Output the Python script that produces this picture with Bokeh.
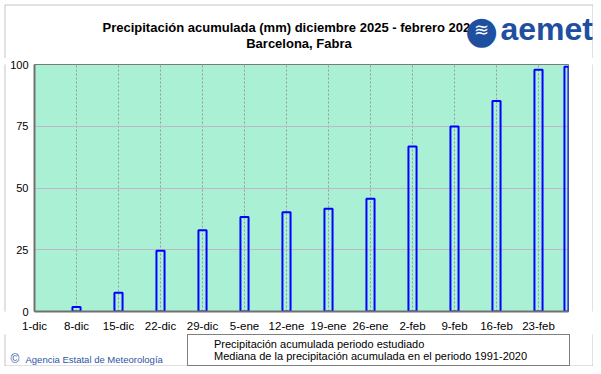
import pandas as pd
from bokeh.plotting import figure
from bokeh.layouts import column, row
from bokeh.models import (Range1d, FixedTicker, Label, Legend, LegendItem,
                          BoxAnnotation, ColumnDataSource)
from bokeh.embed import file_html
from bokeh.resources import INLINE

# ---------------- data ----------------
inicio = "2025-12-01"
fin = "2026-02-28"
fechas_ticks = ["2025-12-01", "2025-12-08", "2025-12-15", "2025-12-22", "2025-12-29",
                "2026-01-05", "2026-01-12", "2026-01-19", "2026-01-26",
                "2026-02-02", "2026-02-09", "2026-02-16", "2026-02-23"]
etiquetas_ticks = ["1-dic", "8-dic", "15-dic", "22-dic", "29-dic", "5-ene", "12-ene",
                   "19-ene", "26-ene", "2-feb", "9-feb", "16-feb", "23-feb"]
fechas_mediana = ["2025-12-08", "2025-12-15", "2025-12-22", "2025-12-29",
                  "2026-01-05", "2026-01-12", "2026-01-19", "2026-01-26",
                  "2026-02-02", "2026-02-09", "2026-02-16", "2026-02-23", "2026-02-28"]
mediana_mm = [1.8, 7.6, 24.6, 32.9, 38.3, 40.2, 41.6, 45.6, 66.8, 74.9, 85.2, 97.9, 99.1]
fechas_estudiado = []
estudiado_mm = []
y_ticks = [0, 25, 50, 75, 100]

titulo = "Precipitación acumulada (mm) diciembre 2025 - febrero 2026"
subtitulo = "Barcelona, Fabra"
leyenda_estudiado = "Precipitación acumulada periodo estudiado"
leyenda_mediana = "Mediana de la precipitación acumulada en el periodo 1991-2020"
copyright_txt = "Agencia Estatal de Meteorología"

t0 = pd.Timestamp(inicio)
def dias(fs):
    return [(pd.Timestamp(f) - t0).days for f in fs]

x_ticks = dias(fechas_ticks)
x_fin = dias([fin])[0]

FONT = "Liberation Sans"
BORDER = "#404040"
W, H_TOP, H_MID, H_BOT = 593, 58, 276, 32
STRIP = 6


def blank(w, h):
    f = figure(width=w, height=h, output_backend="svg", toolbar_location=None,
               title=None, min_border=0, x_axis_location=None, y_axis_location=None,
               outline_line_color=None, background_fill_color="white",
               border_fill_color="white", x_range=Range1d(0, 1), y_range=Range1d(0, 1))
    f.grid.visible = False
    return f


def label(f, x, y, text, size, color="black", bold=False, align="left",
          baseline="middle", font=FONT):
    f.add_layout(Label(x=x, y=y, x_units="screen", y_units="screen", text=text,
                       text_font=font, text_font_size=size, text_color=color,
                       text_font_style="bold" if bold else "normal",
                       text_align=align, text_baseline=baseline))


def box(f, left, right, top, bottom):
    f.add_layout(BoxAnnotation(left=left, right=right, top=top, bottom=bottom,
                               left_units="screen", right_units="screen",
                               top_units="screen", bottom_units="screen",
                               fill_alpha=0, line_color=BORDER, line_width=1))


# ---------------- header ----------------
top = blank(W, H_TOP)
box(top, 4.5, 592.5, H_TOP - 4.5, -50)
label(top, 102, H_TOP - 27.3, titulo, "13px", bold=True)
label(top, 245.7, H_TOP - 43, subtitulo, "13px", bold=True)
label(top, 481, H_TOP - 29, "●", "38px", color="#1f4f9f", align="center",
      font="DejaVu Sans")
label(top, 481, H_TOP - 29, "≋", "18px", color="white", align="center",
      font="DejaVu Sans")
label(top, 500, H_TOP - 28, "aemet", "32px", color="#1f4f9f", bold=True)

# ---------------- side strips ----------------
lstrip = blank(STRIP, H_MID)
box(lstrip, 4.5, 100, 1000, -1000)
rstrip = blank(STRIP, H_MID)
box(rstrip, -100, 5.5, 1000, -1000)

# ---------------- main plot ----------------
p = figure(width=W - 2 * STRIP, height=H_MID, output_backend="svg",
           toolbar_location=None, title=None,
           x_range=Range1d(0, x_fin), y_range=Range1d(0, 100),
           min_border_left=28, min_border_right=19, min_border_top=6,
           min_border_bottom=23, background_fill_color="#aaf0d4",
           border_fill_color="white", outline_line_color="#7a7a7a",
           outline_line_width=1)

src_med = ColumnDataSource(dict(x=dias(fechas_mediana), top=mediana_mm))
p.vbar(x="x", top="top", width=1.35, source=src_med, fill_alpha=0,
       line_color="#0000ff", line_width=2)
src_est = ColumnDataSource(dict(x=dias(fechas_estudiado), y=estudiado_mm))
p.line(x="x", y="y", source=src_est, line_color="#ff0000", line_width=1.5)

for ax in (p.xaxis, p.yaxis):
    ax.major_tick_out = 0
    ax.major_tick_in = 0
    ax.minor_tick_out = 0
    ax.minor_tick_in = 0
    ax.axis_line_color = "#707070"
    ax.axis_line_width = 2
    ax.major_label_text_font = FONT
    ax.major_label_text_color = "black"

p.xaxis.ticker = FixedTicker(ticks=x_ticks)
p.xaxis.major_label_overrides = {d: e for d, e in zip(x_ticks, etiquetas_ticks)}
p.xaxis.major_label_standoff = 8
p.xaxis.major_label_text_font_size = "11.5px"

p.yaxis.ticker = FixedTicker(ticks=y_ticks)
p.yaxis.major_label_standoff = 6
p.yaxis.major_label_text_font_size = "11px"

p.xgrid.grid_line_color = "#9a9a9a"
p.xgrid.grid_line_dash = "2 2"
p.ygrid.grid_line_color = "#c0b8c8"

# ---------------- footer ----------------
bot = blank(W, H_BOT)
box(bot, 4.5, 592.5, 100, 0.5)
src_l1 = ColumnDataSource(dict(x=[], y=[]))
src_l2 = ColumnDataSource(dict(x=[], y=[]))
r1 = bot.line(x="x", y="y", source=src_l1, line_color="#ff0000", line_width=1.5)
r2 = bot.line(x="x", y="y", source=src_l2, line_color="#0000ff", line_width=1.5)
legend = Legend(items=[LegendItem(label=leyenda_estudiado, renderers=[r1]),
                       LegendItem(label=leyenda_mediana, renderers=[r2])],
                location=(187, 0), orientation="vertical", padding=3, spacing=0,
                margin=0, glyph_width=11, glyph_height=12, label_height=12,
                label_width=352, label_standoff=12, label_text_font=FONT,
                label_text_font_size="11px", label_text_color="black",
                border_line_color="black", border_line_width=1,
                background_fill_color="white", background_fill_alpha=1)
bot.add_layout(legend)
label(bot, 10, 8, "©", "12px", color="#2d55a5")
label(bot, 25, 7, copyright_txt, "9.5px", color="#2d55a5")

layout = column(top, row(lstrip, p, rstrip), bot)

open("out.html", "w").write(file_html(layout, INLINE))
